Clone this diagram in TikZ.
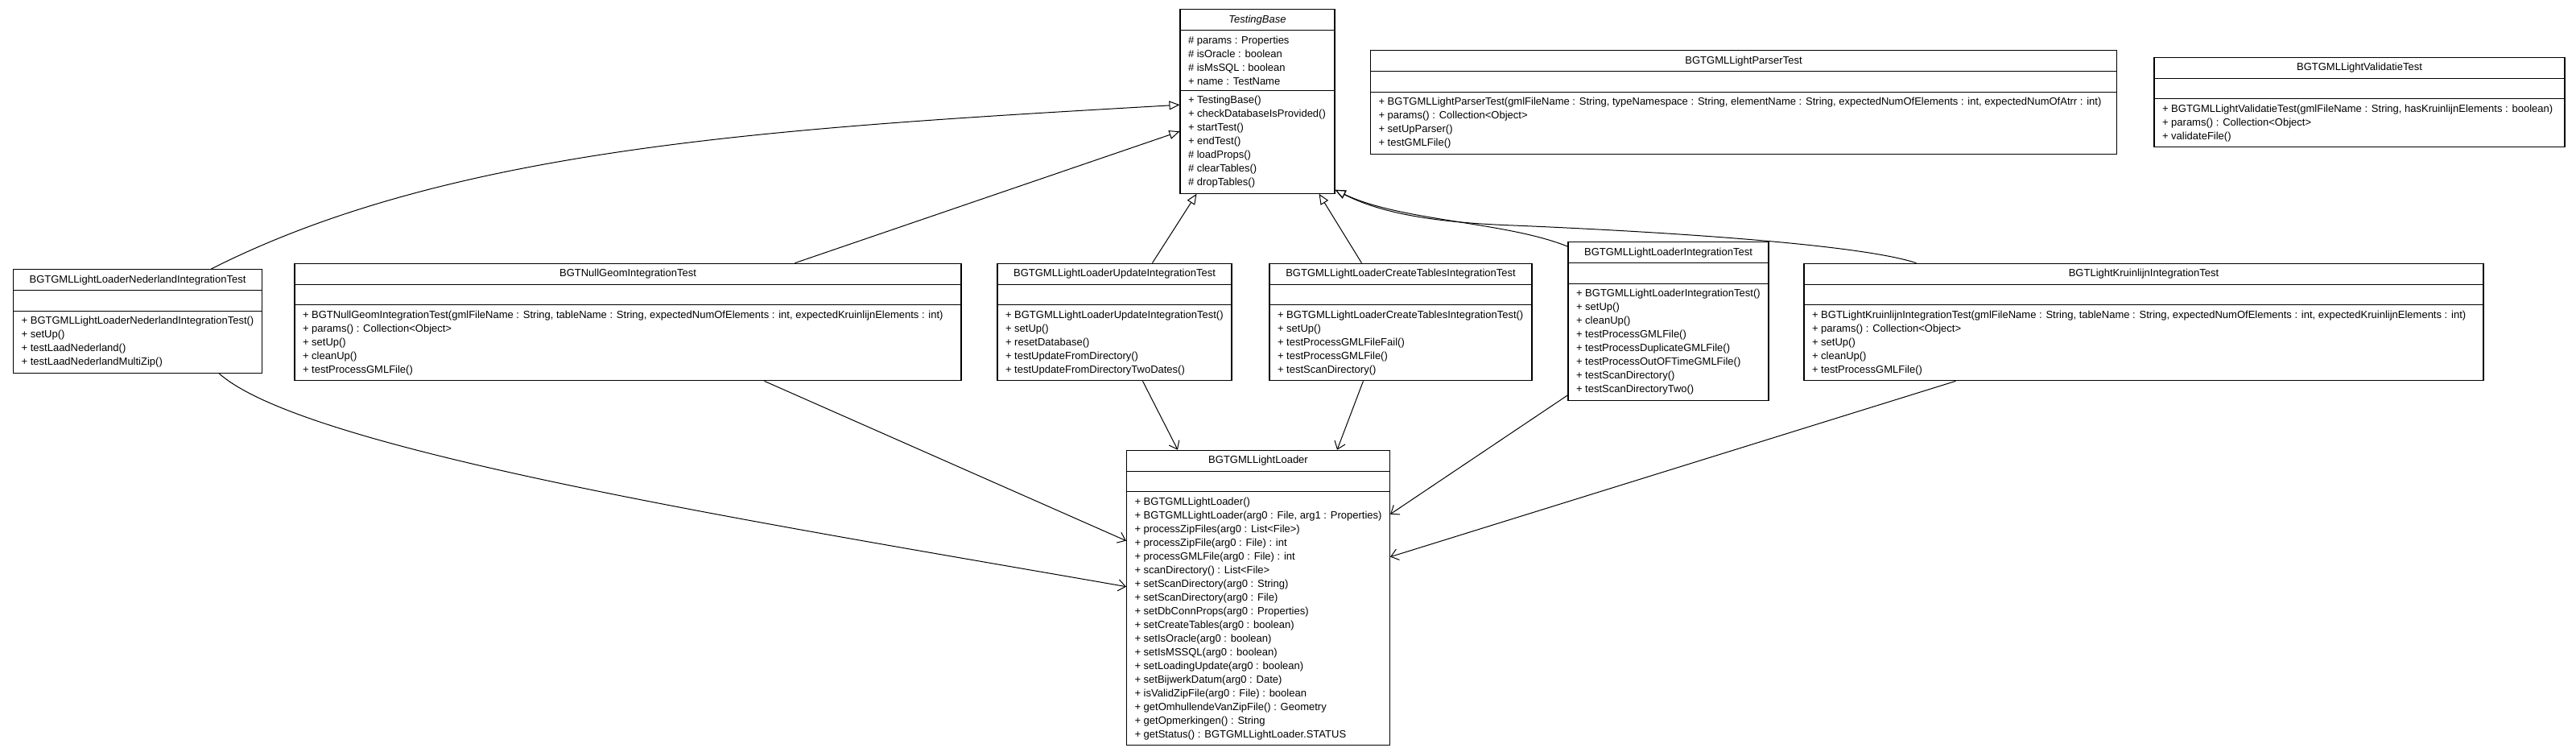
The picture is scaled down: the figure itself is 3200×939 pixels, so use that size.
\documentclass[tikz,border=0pt]{standalone}
\usepackage{fontspec}
\setmainfont{Liberation Sans}
\usetikzlibrary{shapes.multipart,arrows.meta}

\begin{document}
\begin{tikzpicture}[x=1pt,y=1pt,
	umlclass/.style={draw,line width=1.1pt,rectangle split,rectangle split parts=3,
		rectangle split part align={center,left,left},align=left,
		inner xsep=10pt,inner ysep=6.4pt,font=\fontsize{13}{17}\selectfont},
	extends/.style={line width=1pt,-{Triangle[open,length=13pt,width=11pt]}},
	uses/.style={line width=1pt,-{Straight Barb[length=9pt,width=14pt]}}]
	\useasboundingbox (0,0) rectangle (3200,-939);

	\node[umlclass,minimum width=192pt] (base) at (1562,-126) {\textit{TestingBase}
		\nodepart{two}\# params : Properties\\\# isOracle : boolean\\\# isMsSQL : boolean\\+ name : TestName
		\nodepart{three}+ TestingBase()\\+ checkDatabaseIsProvided()\\+ startTest()\\+ endTest()\\\# loadProps()\\\# clearTables()\\\# dropTables()};
	\node[umlclass,minimum width=927pt] (parser) at (2166,-127) {BGTGMLLightParserTest
		\nodepart{two}\vphantom{Tg}
		\nodepart{three}+ BGTGMLLightParserTest(gmlFileName : String, typeNamespace : String, elementName : String, expectedNumOfElements : int, expectedNumOfAtrr : int)\\+ params() : Collection<Object>\\+ setUpParser()\\+ testGMLFile()};
	\node[umlclass,minimum width=510pt] (validatie) at (2931,-127) {BGTGMLLightValidatieTest
		\nodepart{two}\vphantom{Tg}
		\nodepart{three}+ BGTGMLLightValidatieTest(gmlFileName : String, hasKruinlijnElements : boolean)\\+ params() : Collection<Object>\\+ validateFile()};

	\node[umlclass,minimum width=308pt] (nederland) at (171,-399) {BGTGMLLightLoaderNederlandIntegrationTest
		\nodepart{two}\vphantom{Tg}
		\nodepart{three}+ BGTGMLLightLoaderNederlandIntegrationTest()\\+ setUp()\\+ testLaadNederland()\\+ testLaadNederlandMultiZip()};
	\node[umlclass,minimum width=828pt] (nullgeom) at (780,-400) {BGTNullGeomIntegrationTest
		\nodepart{two}\vphantom{Tg}
		\nodepart{three}+ BGTNullGeomIntegrationTest(gmlFileName : String, tableName : String, expectedNumOfElements : int, expectedKruinlijnElements : int)\\+ params() : Collection<Object>\\+ setUp()\\+ cleanUp()\\+ testProcessGMLFile()};
	\node[umlclass,minimum width=291pt] (update) at (1384.5,-400) {BGTGMLLightLoaderUpdateIntegrationTest
		\nodepart{two}\vphantom{Tg}
		\nodepart{three}+ BGTGMLLightLoaderUpdateIntegrationTest()\\+ setUp()\\+ resetDatabase()\\+ testUpdateFromDirectory()\\+ testUpdateFromDirectoryTwoDates()};
	\node[umlclass,minimum width=326pt] (createtables) at (1740,-400) {BGTGMLLightLoaderCreateTablesIntegrationTest
		\nodepart{two}\vphantom{Tg}
		\nodepart{three}+ BGTGMLLightLoaderCreateTablesIntegrationTest()\\+ setUp()\\+ testProcessGMLFileFail()\\+ testProcessGMLFile()\\+ testScanDirectory()};
	\node[umlclass,minimum width=249pt] (loadertest) at (2072.5,-399) {BGTGMLLightLoaderIntegrationTest
		\nodepart{two}\vphantom{Tg}
		\nodepart{three}+ BGTGMLLightLoaderIntegrationTest()\\+ setUp()\\+ cleanUp()\\+ testProcessGMLFile()\\+ testProcessDuplicateGMLFile()\\+ testProcessOutOFTimeGMLFile()\\+ testScanDirectory()\\+ testScanDirectoryTwo()};
	\node[umlclass,minimum width=844pt] (kruinlijn) at (2663,-400) {BGTLightKruinlijnIntegrationTest
		\nodepart{two}\vphantom{Tg}
		\nodepart{three}+ BGTLightKruinlijnIntegrationTest(gmlFileName : String, tableName : String, expectedNumOfElements : int, expectedKruinlijnElements : int)\\+ params() : Collection<Object>\\+ setUp()\\+ cleanUp()\\+ testProcessGMLFile()};

	\node[umlclass,minimum width=324pt] (loader) at (1563,-742.5) {BGTGMLLightLoader
		\nodepart{two}\vphantom{Tg}
		\nodepart{three}+ BGTGMLLightLoader()\\+ BGTGMLLightLoader(arg0 : File, arg1 : Properties)\\+ processZipFiles(arg0 : List<File>)\\+ processZipFile(arg0 : File) : int\\+ processGMLFile(arg0 : File) : int\\+ scanDirectory() : List<File>\\+ setScanDirectory(arg0 : String)\\+ setScanDirectory(arg0 : File)\\+ setDbConnProps(arg0 : Properties)\\+ setCreateTables(arg0 : boolean)\\+ setIsOracle(arg0 : boolean)\\+ setIsMSSQL(arg0 : boolean)\\+ setLoadingUpdate(arg0 : boolean)\\+ setBijwerkDatum(arg0 : Date)\\+ isValidZipFile(arg0 : File) : boolean\\+ getOmhullendeVanZipFile() : Geometry\\+ getOpmerkingen() : String\\+ getStatus() : BGTGMLLightLoader.STATUS};

	\draw[extends] ([xshift=246pt]nederland.north west) .. controls (563,-182) and (966,-159) .. ([yshift=-119pt]base.north west);
	\draw[extends] ([xshift=622pt]nullgeom.north west) -- ([yshift=-152pt]base.north west);
	\draw[extends] ([xshift=193pt]update.north west) -- ([xshift=21pt]base.south west);
	\draw[extends] ([xshift=115pt]createtables.north west) -- ([xshift=-20pt]base.south east);
	\draw[extends] ([yshift=-6pt]loadertest.north west) .. controls (1870,-275) and (1740,-275) .. ([yshift=5pt]base.south east);
	\draw[extends] ([xshift=140pt]kruinlijn.north west) .. controls (2300,-300) and (2000,-285) .. (1880,-280) .. controls (1770,-276) and (1710,-262) .. ([yshift=5pt]base.south east);

	\draw[uses] ([xshift=256pt]nederland.south west) .. controls (380,-560) and (950,-650) .. ([yshift=-170pt]loader.north west);
	\draw[uses] ([xshift=584pt]nullgeom.south west) -- ([yshift=-113pt]loader.north west);
	\draw[uses] ([xshift=181pt]update.south west) -- ([xshift=64pt]loader.north west);
	\draw[uses] ([xshift=117pt]createtables.south west) -- ([xshift=-66pt]loader.north east);
	\draw[uses] ([yshift=7pt]loadertest.south west) -- ([yshift=-80pt]loader.north east);
	\draw[uses] ([xshift=189pt]kruinlijn.south west) -- ([yshift=-133pt]loader.north east);
\end{tikzpicture}
\end{document}
